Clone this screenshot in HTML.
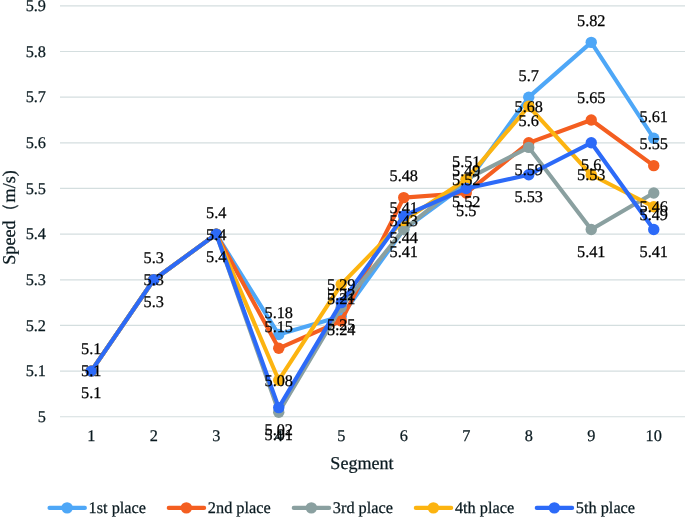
<!DOCTYPE html>
<html><head><meta charset="utf-8"><title>chart</title>
<style>
html,body{margin:0;padding:0;background:#fff;}
body{width:685px;height:517px;overflow:hidden;font-family:"Liberation Serif",serif;}
svg{display:block;will-change:transform;}
svg text{font-family:"Liberation Serif",serif;text-rendering:geometricPrecision;stroke-width:0.25px;paint-order:stroke;}
</style></head><body>
<svg width="685" height="517" viewBox="0 0 685 517">
<rect width="685" height="517" fill="#fff"/>
<g stroke="#D4DEDF" stroke-width="1.2">
<line x1="60.0" y1="416.75" x2="685" y2="416.75"/>
<line x1="60.0" y1="371.09" x2="685" y2="371.09"/>
<line x1="60.0" y1="325.44" x2="685" y2="325.44"/>
<line x1="60.0" y1="279.78" x2="685" y2="279.78"/>
<line x1="60.0" y1="234.13" x2="685" y2="234.13"/>
<line x1="60.0" y1="188.47" x2="685" y2="188.47"/>
<line x1="60.0" y1="142.82" x2="685" y2="142.82"/>
<line x1="60.0" y1="97.16" x2="685" y2="97.16"/>
<line x1="60.0" y1="51.51" x2="685" y2="51.51"/>
<line x1="60.0" y1="5.85" x2="685" y2="5.85"/>
</g>
<g font-size="16.3" fill="#0a1a20" stroke="#0a1a20" text-anchor="end">
<text x="46" y="422.05">5</text>
<text x="46" y="376.39">5.1</text>
<text x="46" y="330.74">5.2</text>
<text x="46" y="285.08">5.3</text>
<text x="46" y="239.43">5.4</text>
<text x="46" y="193.77">5.5</text>
<text x="46" y="148.12">5.6</text>
<text x="46" y="102.46">5.7</text>
<text x="46" y="56.81">5.8</text>
<text x="46" y="11.15">5.9</text>
</g>
<g font-size="16.3" fill="#0a1a20" stroke="#0a1a20" text-anchor="middle">
<text x="91.25" y="440.8">1</text>
<text x="153.75" y="440.8">2</text>
<text x="216.25" y="440.8">3</text>
<text x="278.75" y="440.8">4</text>
<text x="341.25" y="440.8">5</text>
<text x="403.75" y="440.8">6</text>
<text x="466.25" y="440.8">7</text>
<text x="528.75" y="440.8">8</text>
<text x="591.25" y="440.8">9</text>
<text x="653.75" y="440.8">10</text>
</g>
<text x="362.0" y="468.8" font-size="18.1" fill="#0a1a20" stroke="#0a1a20" text-anchor="middle">Segment</text>
<text transform="translate(14.8,217.5) rotate(-90)" font-size="18.1" fill="#0a1a20" stroke="#0a1a20" text-anchor="middle">Speed（m/s)</text>
<polyline points="91.25,371.09 153.75,279.78 216.25,234.13 278.75,334.57 341.25,316.31 403.75,229.56 466.25,183.91 528.75,97.16 591.25,42.37 653.75,138.25" fill="none" stroke="#4EA7F7" stroke-width="4.1" stroke-linejoin="round" stroke-linecap="round"/>
<g fill="#4EA7F7"><circle cx="91.25" cy="371.09" r="5.7"/><circle cx="153.75" cy="279.78" r="5.7"/><circle cx="216.25" cy="234.13" r="5.7"/><circle cx="278.75" cy="334.57" r="5.7"/><circle cx="341.25" cy="316.31" r="5.7"/><circle cx="403.75" cy="229.56" r="5.7"/><circle cx="466.25" cy="183.91" r="5.7"/><circle cx="528.75" cy="97.16" r="5.7"/><circle cx="591.25" cy="42.37" r="5.7"/><circle cx="653.75" cy="138.25" r="5.7"/></g>
<polyline points="91.25,371.09 153.75,279.78 216.25,234.13 278.75,348.27 341.25,320.87 403.75,197.60 466.25,193.04 528.75,142.82 591.25,119.99 653.75,165.64" fill="none" stroke="#F45E20" stroke-width="4.1" stroke-linejoin="round" stroke-linecap="round"/>
<g fill="#F45E20"><circle cx="91.25" cy="371.09" r="5.7"/><circle cx="153.75" cy="279.78" r="5.7"/><circle cx="216.25" cy="234.13" r="5.7"/><circle cx="278.75" cy="348.27" r="5.7"/><circle cx="341.25" cy="320.87" r="5.7"/><circle cx="403.75" cy="197.60" r="5.7"/><circle cx="466.25" cy="193.04" r="5.7"/><circle cx="528.75" cy="142.82" r="5.7"/><circle cx="591.25" cy="119.99" r="5.7"/><circle cx="653.75" cy="165.64" r="5.7"/></g>
<polyline points="91.25,371.09 153.75,279.78 216.25,234.13 278.75,412.18 341.25,307.18 403.75,229.56 466.25,179.34 528.75,147.38 591.25,229.56 653.75,193.04" fill="none" stroke="#8AA0A0" stroke-width="4.1" stroke-linejoin="round" stroke-linecap="round"/>
<g fill="#8AA0A0"><circle cx="91.25" cy="371.09" r="5.7"/><circle cx="153.75" cy="279.78" r="5.7"/><circle cx="216.25" cy="234.13" r="5.7"/><circle cx="278.75" cy="412.18" r="5.7"/><circle cx="341.25" cy="307.18" r="5.7"/><circle cx="403.75" cy="229.56" r="5.7"/><circle cx="466.25" cy="179.34" r="5.7"/><circle cx="528.75" cy="147.38" r="5.7"/><circle cx="591.25" cy="229.56" r="5.7"/><circle cx="653.75" cy="193.04" r="5.7"/></g>
<polyline points="91.25,371.09 153.75,279.78 216.25,234.13 278.75,380.23 341.25,284.35 403.75,220.43 466.25,179.34 528.75,106.29 591.25,174.78 653.75,206.73" fill="none" stroke="#FCB410" stroke-width="4.1" stroke-linejoin="round" stroke-linecap="round"/>
<g fill="#FCB410"><circle cx="91.25" cy="371.09" r="5.7"/><circle cx="153.75" cy="279.78" r="5.7"/><circle cx="216.25" cy="234.13" r="5.7"/><circle cx="278.75" cy="380.23" r="5.7"/><circle cx="341.25" cy="284.35" r="5.7"/><circle cx="403.75" cy="220.43" r="5.7"/><circle cx="466.25" cy="179.34" r="5.7"/><circle cx="528.75" cy="106.29" r="5.7"/><circle cx="591.25" cy="174.78" r="5.7"/><circle cx="653.75" cy="206.73" r="5.7"/></g>
<polyline points="91.25,371.09 153.75,279.78 216.25,234.13 278.75,407.62 341.25,302.61 403.75,215.87 466.25,188.47 528.75,174.78 591.25,142.82 653.75,229.56" fill="none" stroke="#2C6AF8" stroke-width="4.1" stroke-linejoin="round" stroke-linecap="round"/>
<g fill="#2C6AF8"><circle cx="91.25" cy="371.09" r="5.7"/><circle cx="153.75" cy="279.78" r="5.7"/><circle cx="216.25" cy="234.13" r="5.7"/><circle cx="278.75" cy="407.62" r="5.7"/><circle cx="341.25" cy="302.61" r="5.7"/><circle cx="403.75" cy="215.87" r="5.7"/><circle cx="466.25" cy="188.47" r="5.7"/><circle cx="528.75" cy="174.78" r="5.7"/><circle cx="591.25" cy="142.82" r="5.7"/><circle cx="653.75" cy="229.56" r="5.7"/></g>
<g font-size="16.3" fill="#000" stroke="#000" text-anchor="middle">
<text x="91.25" y="354.49">5.1</text><text x="153.75" y="263.18">5.3</text><text x="216.25" y="217.53">5.4</text><text x="278.75" y="317.97">5.18</text><text x="341.25" y="299.71">5.22</text><text x="403.75" y="212.96">5.41</text><text x="466.25" y="167.31">5.51</text><text x="528.75" y="80.56">5.7</text><text x="591.25" y="25.77">5.82</text><text x="653.75" y="121.65">5.61</text>
<text x="278.75" y="331.67">5.15</text><text x="341.25" y="304.27">5.21</text><text x="403.75" y="181.00">5.48</text><text x="466.25" y="176.44">5.49</text><text x="528.75" y="126.22">5.6</text><text x="591.25" y="103.39">5.65</text><text x="653.75" y="149.04">5.55</text>
<text x="91.25" y="398.49">5.1</text><text x="153.75" y="307.18">5.3</text><text x="216.25" y="261.53">5.4</text><text x="278.75" y="439.58">5.01</text><text x="341.25" y="334.58">5.24</text><text x="403.75" y="256.96">5.41</text><text x="466.25" y="206.74">5.52</text><text x="528.75" y="174.78">5.59</text><text x="591.25" y="256.96">5.41</text><text x="653.75" y="220.44">5.49</text>
<text x="91.25" y="376.49">5.1</text><text x="153.75" y="285.18">5.3</text><text x="216.25" y="239.53">5.4</text><text x="278.75" y="385.63">5.08</text><text x="341.25" y="289.75">5.29</text><text x="403.75" y="225.83">5.43</text><text x="466.25" y="184.74">5.52</text><text x="528.75" y="111.69">5.68</text><text x="591.25" y="180.18">5.53</text><text x="653.75" y="212.13">5.46</text>
<text x="278.75" y="435.02">5.02</text><text x="341.25" y="330.01">5.25</text><text x="403.75" y="243.27">5.44</text><text x="466.25" y="215.87">5.5</text><text x="528.75" y="202.18">5.53</text><text x="591.25" y="170.22">5.6</text><text x="653.75" y="256.96">5.41</text>
</g>
<line x1="49.50" y1="507.9" x2="84.90" y2="507.9" stroke="#4EA7F7" stroke-width="4.1" stroke-linecap="round"/><circle cx="67.10" cy="507.9" r="5.7" fill="#4EA7F7"/><text x="88.60" y="513.0" font-size="16.3" fill="#0a1a20" stroke="#0a1a20">1st place</text>
<line x1="168.75" y1="507.9" x2="204.15" y2="507.9" stroke="#F45E20" stroke-width="4.1" stroke-linecap="round"/><circle cx="186.35" cy="507.9" r="5.7" fill="#F45E20"/><text x="207.85" y="513.0" font-size="16.3" fill="#0a1a20" stroke="#0a1a20">2nd place</text>
<line x1="293.75" y1="507.9" x2="329.15" y2="507.9" stroke="#8AA0A0" stroke-width="4.1" stroke-linecap="round"/><circle cx="311.35" cy="507.9" r="5.7" fill="#8AA0A0"/><text x="332.85" y="513.0" font-size="16.3" fill="#0a1a20" stroke="#0a1a20">3rd place</text>
<line x1="415.80" y1="507.9" x2="451.20" y2="507.9" stroke="#FCB410" stroke-width="4.1" stroke-linecap="round"/><circle cx="433.40" cy="507.9" r="5.7" fill="#FCB410"/><text x="454.90" y="513.0" font-size="16.3" fill="#0a1a20" stroke="#0a1a20">4th place</text>
<line x1="536.75" y1="507.9" x2="572.15" y2="507.9" stroke="#2C6AF8" stroke-width="4.1" stroke-linecap="round"/><circle cx="554.35" cy="507.9" r="5.7" fill="#2C6AF8"/><text x="575.85" y="513.0" font-size="16.3" fill="#0a1a20" stroke="#0a1a20">5th place</text>
</svg>
</body></html>
